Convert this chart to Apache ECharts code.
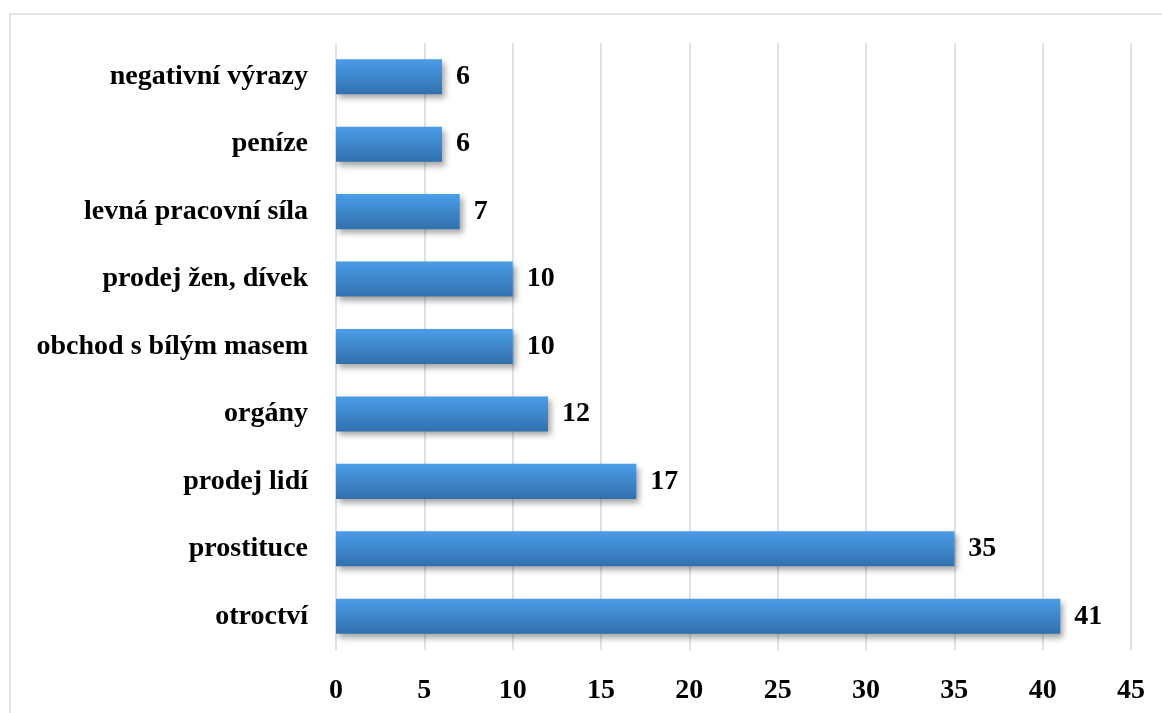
<!DOCTYPE html>
<html>
<head>
<meta charset="utf-8">
<script src="https://cdn.jsdelivr.net/npm/echarts@6/dist/echarts.min.js"></script>
<style>
  html, body { margin: 0; padding: 0; background: #fff; }
  #main { width: 1162px; height: 713px; }
</style>
</head>
<body>
<div id="main"></div>
<script>
var categories = ['negativní výrazy', 'peníze', 'levná pracovní síla', 'prodej žen, dívek',
    'obchod s bílým masem', 'orgány', 'prodej lidí', 'prostituce', 'otroctví'];
var values = [6, 6, 7, 10, 10, 12, 17, 35, 41];
var xTicks = [0, 5, 10, 15, 20, 25, 30, 35, 40, 45];

var font = '"Liberation Serif", "DejaVu Serif", serif';
var chart = echarts.init(document.getElementById('main'));

var option = {
    animation: false,
    backgroundColor: '#fff',
    graphic: [{
        type: 'rect',
        shape: {x: 10, y: 14, width: 1200, height: 760},
        style: {fill: 'none', stroke: '#e1e4ea', lineWidth: 2}
    }],
    grid: {left: 336, right: 31, top: 43, bottom: 63},
    xAxis: {
        type: 'value',
        min: xTicks[0],
        max: xTicks[xTicks.length - 1],
        interval: 5,
        axisLine: {show: false},
        axisTick: {show: false},
        splitLine: {lineStyle: {color: '#dde1e8', width: 2}},
        axisLabel: {
            margin: 27,
            color: '#000',
            fontFamily: font,
            fontWeight: 'bold',
            fontSize: 28
        }
    },
    yAxis: {
        type: 'category',
        inverse: true,
        data: categories,
        axisLine: {show: false},
        axisTick: {show: false},
        axisLabel: {
            margin: 28,
            color: '#000',
            fontFamily: font,
            fontWeight: 'bold',
            fontSize: 28
        }
    },
    series: [{
        type: 'bar',
        data: values,
        barWidth: '52%',
        itemStyle: {
            color: new echarts.graphic.LinearGradient(0, 0, 0, 1, [
                {offset: 0, color: '#4a9de8'},
                {offset: 1, color: '#3270ad'}
            ]),
            shadowColor: 'rgba(0,0,0,0.35)',
            shadowBlur: 6,
            shadowOffsetX: 3,
            shadowOffsetY: 4
        },
        label: {
            show: true,
            position: 'right',
            distance: 14,
            color: '#000',
            fontFamily: font,
            fontWeight: 'bold',
            fontSize: 28
        }
    }]
};
chart.setOption(option);
</script>
</body>
</html>
